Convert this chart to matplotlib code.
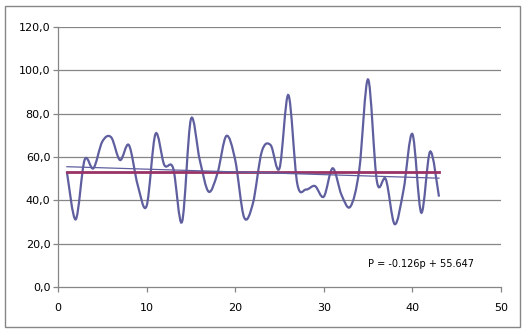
# plot.py
# Smoothed series with mean line and linear trend, Excel style.

import numpy as np
import matplotlib.pyplot as plt
from matplotlib.path import Path
from matplotlib.patches import PathPatch, Rectangle

# Data
p_values = list(range(1, 44))
series = [53.2, 31.2, 58.6, 54.8, 67.1, 69.1, 58.6, 65.5, 47.0, 37.4,
          70.6, 56.3, 54.8, 30.1, 77.4, 58.6, 44.0, 52.5, 69.7, 58.6,
          32.2, 38.6, 62.5, 65.5, 54.8, 88.6, 47.8, 45.0, 46.6, 41.7,
          54.8, 42.5, 37.1, 54.0, 95.8, 48.6, 49.7, 29.0, 44.8, 70.6,
          34.3, 62.5, 41.7]
mean_level = 53.3
trend_slope = -0.126
trend_intercept = 55.647
equation_text = 'P = -0.126p + 55.647'

y_ticks = [0, 20, 40, 60, 80, 100, 120]
x_ticks = [0, 10, 20, 30, 40, 50]

line_color = '#5F5F9F'
mean_color = '#993366'
grid_color = '#868686'


def smooth_path(xs, ys, t=1 / 6):
    # Bezier path through the points, like Excel's smoothed line
    x = np.asarray(xs, float)
    y = np.asarray(ys, float)
    verts = [(x[0], y[0])]
    codes = [Path.MOVETO]
    n = len(x)
    for i in range(n - 1):
        i0 = max(i - 1, 0)
        i3 = min(i + 2, n - 1)
        c1 = (x[i] + (x[i + 1] - x[i0]) * t, y[i] + (y[i + 1] - y[i0]) * t)
        c2 = (x[i + 1] - (x[i3] - x[i]) * t, y[i + 1] - (y[i3] - y[i]) * t)
        verts += [c1, c2, (x[i + 1], y[i + 1])]
        codes += [Path.CURVE4] * 3
    return Path(verts, codes)


fig = plt.figure(figsize=(5.27, 3.33), dpi=100)
ax = fig.add_axes([58 / 527, 1 - 287 / 333, (501 - 58) / 527, (287 - 27) / 333])

# Outer chart border
fig.patches.append(Rectangle((5 / 527, 6 / 333), 515 / 527, 321 / 333,
                             transform=fig.transFigure, fill=False,
                             edgecolor=grid_color, linewidth=1.0))

# Horizontal gridlines
for v in y_ticks[1:]:
    ax.axhline(v, color=grid_color, linewidth=0.9, zorder=1)

# Smoothed data line
ax.add_patch(PathPatch(smooth_path(p_values, series), facecolor='none',
                       edgecolor=line_color, linewidth=1.6, zorder=3))

# Mean line
ax.plot([p_values[0], p_values[-1]], [mean_level, mean_level],
        color=mean_color, linewidth=2.0, zorder=4)

# Linear trend
px = np.array([p_values[0], p_values[-1]])
ax.plot(px, trend_slope * px + trend_intercept, color=line_color,
        linewidth=0.9, zorder=5)

ax.text(0.70, 0.088, equation_text, transform=ax.transAxes, fontsize=7,
        va='center', color='black', zorder=6)

ax.set_xlim(0, 50)
ax.set_ylim(0, 120)
ax.set_xticks(x_ticks)
ax.set_yticks(y_ticks)
ax.set_yticklabels([f'{v:.1f}'.replace('.', ',') for v in y_ticks])

for side in ['top', 'right']:
    ax.spines[side].set_visible(False)
for side in ['left', 'bottom']:
    ax.spines[side].set_color(grid_color)
    ax.spines[side].set_linewidth(0.9)
ax.tick_params(axis='both', colors=grid_color, length=3.5, width=0.9,
               labelcolor='black', labelsize=8, direction='out')
ax.tick_params(axis='x', pad=8)
ax.tick_params(axis='y', pad=2)

fig.savefig('out.png', dpi=100)
